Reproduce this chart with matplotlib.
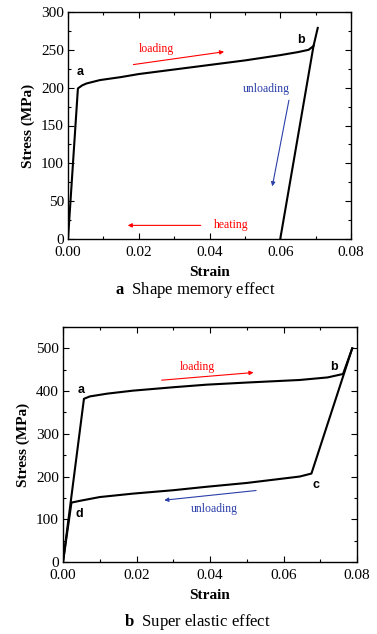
import numpy as np
import matplotlib
matplotlib.use("Agg")
import matplotlib.pyplot as plt
from matplotlib.ticker import MultipleLocator, FormatStrFormatter

# panel a: shape memory effect
sme_load_x = [0.0, 0.0028, 0.0040, 0.0052, 0.0090, 0.015, 0.020, 0.030, 0.040, 0.050, 0.060, 0.065, 0.068, 0.0694, 0.0706]
sme_load_y = [0, 199, 203, 205.5, 210, 214, 218, 224, 230, 236, 243, 247, 250, 255, 279]
sme_unload_x = [0.0694, 0.060]
sme_unload_y = [255, 0]

# panel b: super elastic effect
se_load_x = [0.0, 0.0057, 0.0073, 0.012, 0.019, 0.030, 0.039, 0.050, 0.0644, 0.072, 0.0762, 0.0787]
se_load_y = [0, 382, 387.5, 394, 401, 409, 415, 420, 426, 432, 440, 500]
se_unload_x = [0.0787, 0.0676, 0.0644, 0.050, 0.039, 0.030, 0.019, 0.010, 0.0045, 0.0023, 0.0]
se_unload_y = [500, 207, 200, 185, 176, 168, 160, 152, 143, 139, 0]

serif = "Liberation Serif"
sans = "Liberation Sans"
plt.rcParams["mathtext.fontset"] = "custom"
plt.rcParams["mathtext.rm"] = "Liberation Serif"
plt.rcParams["mathtext.bf"] = "Liberation Serif:bold"

fig = plt.figure(figsize=(3.77, 6.34), dpi=100)
W, H = 377, 634


def setup(ax, ymax, ymajor, yminor):
    ax.set_xlim(0, 0.08)
    ax.set_ylim(0, ymax)
    ax.xaxis.set_major_locator(MultipleLocator(0.02))
    ax.xaxis.set_minor_locator(MultipleLocator(0.01))
    ax.yaxis.set_major_locator(MultipleLocator(ymajor))
    ax.yaxis.set_minor_locator(MultipleLocator(yminor))
    ax.xaxis.set_major_formatter(FormatStrFormatter("%.2f"))
    ax.tick_params(which="both", direction="in", top=True, right=True, width=0.8)
    ax.tick_params(which="major", length=4, labelsize=11, pad=3)
    ax.tick_params(axis="x", which="major", pad=5)
    ax.tick_params(which="minor", length=2.5)
    for lab in ax.get_xticklabels() + ax.get_yticklabels():
        lab.set_fontfamily(serif)
    for s in ax.spines.values():
        s.set_linewidth(1.0)
    ax.set_xlabel("Strain", fontfamily=serif, fontweight="bold", fontsize=11, labelpad=5)
    ax.set_ylabel("Stress (MPa)", fontfamily=serif, fontweight="bold", fontsize=11, labelpad=4)


# top panel
ax1 = fig.add_axes([68 / W, 1 - 239 / H, (351 - 68) / W, (239 - 12) / H])
setup(ax1, 300, 50, 25)
ax1.plot(sme_load_x, sme_load_y, color="black", lw=1.5)
ax1.plot(sme_unload_x, sme_unload_y, color="black", lw=1.5)
ax1.text(0.0033, 221, "a", fontfamily=sans, fontweight="bold", fontsize=9, ha="center", va="center")
ax1.text(0.066, 263, "b", fontfamily=sans, fontweight="bold", fontsize=9, ha="center", va="center")
ax1.annotate("", xy=(0.0449, 248), xytext=(0.0177, 230),
             arrowprops=dict(arrowstyle="-|>", color="red", lw=0.8, mutation_scale=6))
ax1.text(0.025, 251, "loading", color="red", fontfamily=serif, fontsize=8.5, ha="center", va="center")
ax1.annotate("", xy=(0.0576, 66), xytext=(0.0626, 187),
             arrowprops=dict(arrowstyle="-|>", color="#2b3fa8", lw=0.8, mutation_scale=6))
ax1.text(0.0562, 198, "unloading", color="#2b3fa8", fontfamily=serif, fontsize=8.5, ha="center", va="center")
ax1.annotate("", xy=(0.0161, 18), xytext=(0.0383, 18),
             arrowprops=dict(arrowstyle="-|>", color="red", lw=0.8, mutation_scale=6))
ax1.text(0.0461, 18, "heating", color="red", fontfamily=serif, fontsize=8.5, ha="center", va="center")

# bottom panel
ax2 = fig.add_axes([63 / W, 1 - 562 / H, (357 - 63) / W, (562 - 327) / H])
setup(ax2, 550, 100, 50)
ax2.plot(se_load_x, se_load_y, color="black", lw=1.5)
ax2.plot(se_unload_x, se_unload_y, color="black", lw=1.5)
for lx, ly, t in [(0.0050, 403, "a"), (0.0737, 457, "b"), (0.0688, 180, "c"), (0.0045, 113, "d")]:
    ax2.text(lx, ly, t, fontfamily=sans, fontweight="bold", fontsize=9, ha="center", va="center")
ax2.annotate("", xy=(0.0526, 444), xytext=(0.0261, 425),
             arrowprops=dict(arrowstyle="-|>", color="red", lw=0.8, mutation_scale=6))
ax2.text(0.0367, 457, "loading", color="red", fontfamily=serif, fontsize=8.5, ha="center", va="center")
ax2.annotate("", xy=(0.0268, 144), xytext=(0.0533, 168),
             arrowprops=dict(arrowstyle="-|>", color="#2b3fa8", lw=0.8, mutation_scale=6))
ax2.text(0.0413, 123, "unloading", color="#2b3fa8", fontfamily=serif, fontsize=8.5, ha="center", va="center")

# captions
fig.text(195 / W, 1 - 290 / H, r"$\mathbf{a}$  Shape memory effect", fontfamily=serif, fontsize=12,
         ha="center", va="center")
fig.text(197 / W, 1 - 622 / H, r"$\mathbf{b}$  Super elastic effect", fontfamily=serif, fontsize=12,
         ha="center", va="center")

fig.savefig("out.png", dpi=100)
